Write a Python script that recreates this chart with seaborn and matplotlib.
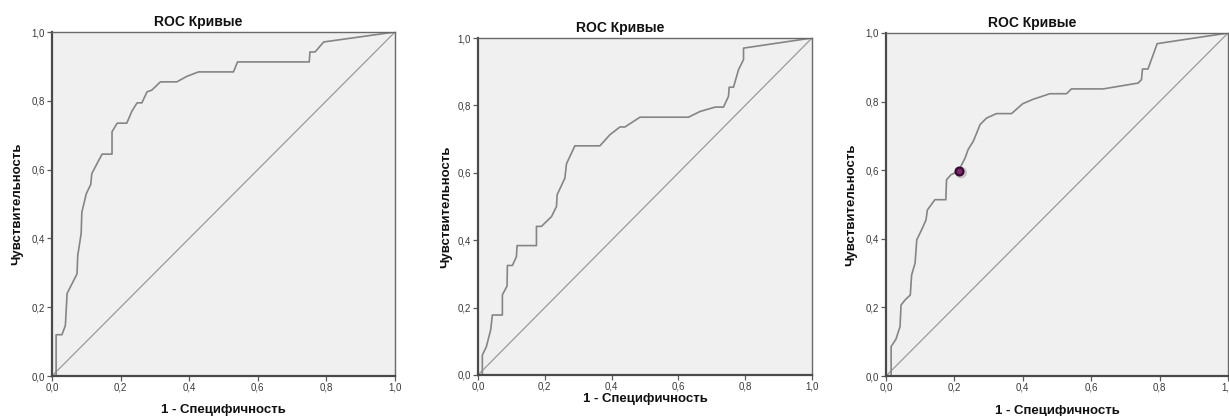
import numpy as np
import pandas as pd
import matplotlib
matplotlib.use("Agg")
import matplotlib.pyplot as plt
import seaborn as sns

# ROC curve 1
fpr1 = [0.0, 0.012, 0.012, 0.029, 0.039, 0.044, 0.073, 0.075, 0.085, 0.087, 0.10, 0.113,
        0.116, 0.131, 0.146, 0.175, 0.175, 0.19, 0.218, 0.233, 0.248, 0.262, 0.277, 0.291,
        0.316, 0.364, 0.393, 0.427, 0.529, 0.541, 0.75, 0.752, 0.767, 0.792, 1.0]
tpr1 = [0.0, 0.0, 0.12, 0.12, 0.147, 0.24, 0.297, 0.35, 0.414, 0.476, 0.53, 0.557,
        0.588, 0.617, 0.645, 0.645, 0.71, 0.735, 0.735, 0.77, 0.794, 0.794, 0.826, 0.831,
        0.855, 0.855, 0.871, 0.884, 0.884, 0.913, 0.913, 0.942, 0.942, 0.971, 1.0]

# ROC curve 2
fpr2 = [0.0, 0.013, 0.013, 0.025, 0.038, 0.043, 0.073, 0.073, 0.087, 0.088, 0.103, 0.115,
        0.117, 0.175, 0.175, 0.19, 0.22, 0.235, 0.237, 0.26, 0.265, 0.29, 0.365, 0.395,
        0.425, 0.44, 0.485, 0.63, 0.665, 0.71, 0.735, 0.75, 0.752, 0.765, 0.78, 0.795,
        0.795, 1.0]
tpr2 = [0.0, 0.0, 0.059, 0.084, 0.134, 0.178, 0.178, 0.238, 0.264, 0.325, 0.325, 0.351,
        0.384, 0.384, 0.441, 0.441, 0.47, 0.5, 0.535, 0.584, 0.627, 0.68, 0.68, 0.713,
        0.736, 0.736, 0.765, 0.765, 0.782, 0.795, 0.795, 0.827, 0.854, 0.854, 0.906, 0.936,
        0.97, 1.0]

# ROC curve 3
fpr3 = [0.0, 0.015, 0.015, 0.029, 0.041, 0.044, 0.056, 0.071, 0.075, 0.085, 0.09, 0.104,
        0.117, 0.121, 0.143, 0.175, 0.177, 0.19, 0.211, 0.231, 0.24, 0.255, 0.265, 0.275,
        0.294, 0.323, 0.367, 0.40, 0.431, 0.479, 0.528, 0.542, 0.635, 0.737, 0.747, 0.75,
        0.766, 0.793, 1.0]
tpr3 = [0.0, 0.0, 0.086, 0.107, 0.144, 0.207, 0.222, 0.236, 0.295, 0.329, 0.397, 0.426,
        0.455, 0.484, 0.514, 0.514, 0.572, 0.587, 0.596, 0.635, 0.66, 0.684, 0.708, 0.733,
        0.752, 0.765, 0.765, 0.794, 0.807, 0.823, 0.823, 0.837, 0.837, 0.854, 0.864, 0.895,
        0.895, 0.969, 1.0]

# cut-off point marked on the third curve
cut_x = [0.214]
cut_y = [0.599]

ticks = [0.0, 0.2, 0.4, 0.6, 0.8, 1.0]
tick_labels = ["0,0", "0,2", "0,4", "0,6", "0,8", "1,0"]

title = "ROC Кривые"
xlab = "1 - Специфичность"
ylab = "Чувствительность"

sns.set_style("white", {"axes.facecolor": "#f0f0f0", "axes.edgecolor": "#5a5a5a"})
plt.rcParams["font.family"] = ["Liberation Sans", "DejaVu Sans"]

W, H = 1229, 416
fig = plt.figure(figsize=(W / 100, H / 100), dpi=100)

# axes boxes in pixels: left, top, right, bottom ; ylabel right edge ; xlabel top
boxes = [(52, 32, 395, 376, 23, 404),
         (478, 38, 812, 375, 452, 393),
         (886, 33, 1228, 376, 857, 405)]
curves = [(fpr1, tpr1), (fpr2, tpr2), (fpr3, tpr3)]

for i, ((l, t, r, b, ylx, xly), (fx, ty)) in enumerate(zip(boxes, curves)):
    ax = fig.add_axes([l / W, (H - b) / H, (r - l) / W, (b - t) / H])
    ax.plot([0, 1], [0, 1], color="#9a9a9a", lw=0.9, zorder=1)
    df = pd.DataFrame({"fpr": fx, "tpr": ty})
    sns.lineplot(data=df, x="fpr", y="tpr", sort=False, estimator=None,
                 color="#858585", lw=1.2, ax=ax, zorder=2)
    if i == 2:
        ax.scatter([c + 0.006 for c in cut_x], [c - 0.006 for c in cut_y], s=70,
                   color="#b0a8ae", alpha=0.6, edgecolor="none", zorder=3)
        ax.scatter(cut_x, cut_y, s=32, facecolor="#7a2a6a", edgecolor="#3a0a32",
                   linewidth=1.6, zorder=4)
    ax.set_xlim(0, 1)
    ax.set_ylim(0, 1)
    ax.set_xticks(ticks)
    ax.set_yticks(ticks)
    ax.set_xticklabels(tick_labels)
    ax.set_yticklabels(tick_labels)
    ax.tick_params(axis="both", direction="out", length=3.5, width=0.9, color="#5a5a5a",
                   labelsize=7, labelcolor="#3a3a3a", pad=1.5, left=True, bottom=True)
    for s in ax.spines.values():
        s.set_linewidth(1.0)
        s.set_color("#6a6a6a")
    ax.spines["left"].set_linewidth(1.6)
    ax.spines["bottom"].set_linewidth(1.6)
    ax.spines["left"].set_color("#4a4a4a")
    ax.spines["bottom"].set_color("#4a4a4a")
    ax.set_title(title, fontsize=10, fontweight="bold", x=0.427, pad=4, color="#111111")
    ax.set_xlabel(xlab, fontsize=9.5, fontweight="bold", color="#111111")
    ax.set_ylabel(ylab, fontsize=9.5, fontweight="bold", color="#111111")
    ax.yaxis.set_label_coords((ylx - l) / (r - l), 0.5)
    ax.xaxis.set_label_coords(0.5, -(xly - b) / (b - t))

fig.savefig("out.png", dpi=100, facecolor="white")
